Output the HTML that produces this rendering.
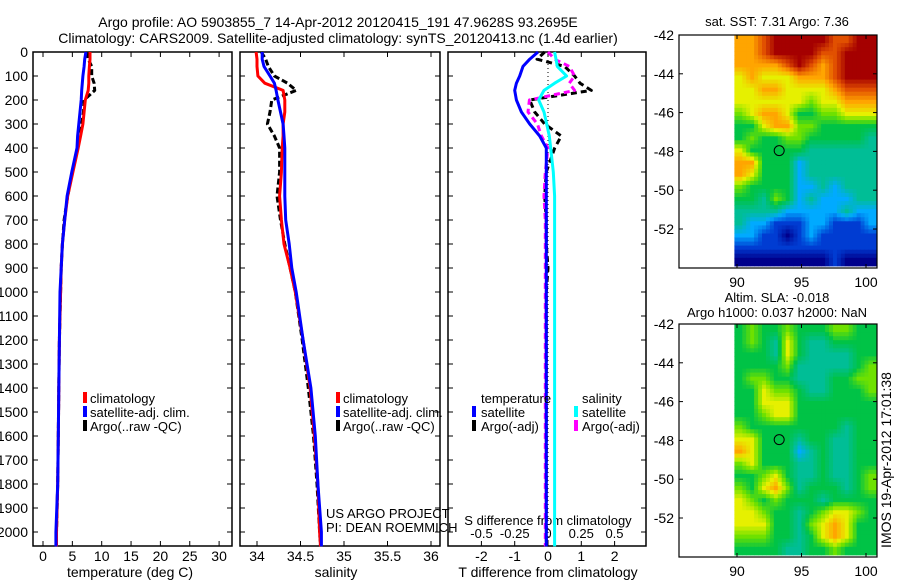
<!DOCTYPE html>
<html><head><meta charset="utf-8"><style>
body{margin:0;background:#fff}
svg{display:block;font-family:"Liberation Sans",sans-serif;font-size:13px}
.big{font-size:14px}
</style></head><body>
<svg id="c" width="900" height="580" viewBox="0 0 900 580">
<rect width="900" height="580" fill="#fff"/>
<text class="big" x="338" y="27" text-anchor="middle">Argo profile: AO 5903855_7 14-Apr-2012 20120415_191 47.9628S 93.2695E</text>
<text class="big" x="338" y="43" text-anchor="middle">Climatology: CARS2009. Satellite-adjusted climatology: synTS_20120413.nc (1.4d earlier)</text>
<g id="g"></g>
</svg>
<script>
// ---- data ----
const depthTicks=[0,100,200,300,400,500,600,700,800,900,1000,1100,1200,1300,1400,1500,1600,1700,1800,1900,2000];
const tempTicks=[0,5,10,15,20,25,30];
const salTicks=[34,34.5,35,35.5,36];
const tdTicks=[-2,-1,0,1,2];
const sdTicks=[-0.5,-0.25,0,0.25,0.5];
const sdTickLabels=["-0.5","-0.25","0","0.25","0.5"];
const depths=[0,30,60,100,130,160,200,250,300,350,400,500,600,700,800,900,1000,1200,1400,1600,1800,2000,2060];
const tempClim=[8.0,8.0,7.9,7.8,7.8,7.7,7.2,7.0,6.8,6.4,6.0,5.1,4.2,3.7,3.3,3.1,3.0,2.8,2.7,2.6,2.5,2.3,2.3];
const tempSat=[7.3,7.1,7.0,6.8,6.7,6.6,6.5,6.3,6.1,5.9,5.8,4.9,4.1,3.7,3.3,3.1,2.9,2.8,2.7,2.6,2.5,2.2,2.2];
const tempArgo=[7.6,7.7,8.3,8.3,8.7,8.8,7.0,6.9,6.6,6.3,5.9,5.0,4.2,3.6,3.3,3.1,3.0,2.8,2.7,2.6,2.5,2.3,2.3];
const salClim=[33.99,34.0,34.0,34.01,34.09,34.3,34.32,34.32,34.3,34.3,34.29,34.28,34.26,34.28,34.31,34.38,34.44,34.53,34.61,34.66,34.7,34.72,34.73];
const salSat=[34.06,34.06,34.08,34.15,34.2,34.22,34.24,34.27,34.3,34.31,34.32,34.32,34.32,34.33,34.37,34.4,34.45,34.53,34.62,34.67,34.7,34.74,34.74];
const salArgo=[34.05,34.1,34.13,34.2,34.35,34.45,34.17,34.15,34.12,34.2,34.26,34.26,34.23,34.27,34.32,34.38,34.44,34.52,34.59,34.65,34.69,34.72,34.73];
const tDiffSat=[-0.3,-0.55,-0.75,-0.85,-0.95,-1.0,-0.95,-0.8,-0.55,-0.25,-0.05,-0.05,-0.05,-0.05,-0.05,-0.05,-0.05,-0.05,-0.05,-0.05,-0.05,-0.05,-0.05];
const sDiffSat=[0.05,0.06,0.07,0.14,0.05,-0.03,-0.07,-0.03,-0.01,0.01,0.02,0.04,0.05,0.05,0.05,0.05,0.05,0.05,0.05,0.05,0.05,0.05,0.05];
const tDiffArgo=[-0.1,-0.33,0.5,0.8,0.96,1.3,-0.55,-0.4,-0.1,0.4,0.2,-0.05,-0.1,-0.05,-0.05,0.0,-0.05,-0.05,-0.05,-0.05,-0.05,-0.05,-0.05];
const sDiffArgo=[0.0,0.05,0.16,0.2,0.16,0.2,-0.14,-0.15,-0.08,-0.05,0.0,-0.02,-0.03,-0.02,-0.02,-0.02,-0.02,-0.02,-0.02,-0.02,-0.02,-0.02,-0.02];
const sstGrid=["778999998899","778999988999","777789878999","676667778999","667766667888","666666566777","567764455666","446775544444","454455444443","644444333333","774442333333","764442333333","544442232333","443542322233","333322222322","322111221112","221101211111","111111111111","000000001000"];
const slaGrid=["454454445544","454364334444","444364333344","444453333345","455443334455","446554334445","446664444444","445664444444","544444444344","664443443344","764442343344","564443343344","445643343345","546753444345","654544434444","665443456654","666443567644","555443467644","444433445444"];
const lonTicks=[90,95,100];
const latTicks=[-42,-44,-46,-48,-50,-52];
const argoLon=93.27, argoLat=-47.96;
const palette=[[0,0,140],[0,60,210],[0,170,255],[0,190,150],[0,195,70],[110,225,0],[230,240,0],[255,165,0],[225,80,0],[165,0,0]];

// ---- drawing ----
const NS="http://www.w3.org/2000/svg";
const G=document.getElementById('g');
function el(t,a,p){const e=document.createElementNS(NS,t);for(const k in a)e.setAttribute(k,a[k]);(p||G).appendChild(e);return e;}
const yD=d=>52+d*0.24;
const Y0=52,Y1=546;
function axesBox(x0,x1,name){
  const r=el('rect',{x:x0,y:Y0,width:x1-x0,height:Y1-Y0,fill:'none',stroke:'#000','stroke-width':1.5});
  
  
  depthTicks.forEach(d=>{el('line',{x1:x0,x2:x0+5,y1:yD(d),y2:yD(d),stroke:'#000'});el('line',{x1:x1-5,x2:x1,y1:yD(d),y2:yD(d),stroke:'#000'});});
}
function txt(x,y,s,name,anchor,cls){const t=el('text',{x:x,y:y,'text-anchor':anchor||'start'});t.textContent=s;
  if(cls)t.setAttribute('class',cls);
  
  return t;}
function xTicks(ticks,sx,labels,nameP,labelY){
  ticks.forEach((v,i)=>{const x=sx(v);
    el('line',{x1:x,x2:x,y1:Y0,y2:Y0+5,stroke:'#000'});el('line',{x1:x,x2:x,y1:Y1-5,y2:Y1,stroke:'#000'});
    txt(x,labelY,labels?labels[i]:String(v),nameP+'-tick-label','middle','big');
  });
}
function line(vals,sx,color,w,dash,name){
  const pts=vals.map((v,i)=>sx(v).toFixed(1)+','+yD(depths[i]).toFixed(1)).join(' ');
  const a={points:pts,fill:'none',stroke:color,'stroke-width':w,'stroke-linejoin':'round'};
  if(dash)a['stroke-dasharray']=dash;
  const p=el('polyline',a);
  
  
}
function legendSwatch(x,y,c){el('rect',{x:x,y:y-10,width:4,height:11,fill:c});}

depthTicks.forEach(d=>{txt(28,yD(d)+5,String(d),'depth-tick-label','end','big');});

// Panel 1 temperature
const sxT=v=>43+v*5.87;
axesBox(33,232,'temperature-axes');
xTicks(tempTicks,sxT,null,'temperature',561);
txt(130,577,'temperature (deg C)','temperature-x-axis-title','middle','big');
line(tempArgo,sxT,'#000',3,'6,3','temperature-argo-line');
line(tempClim,sxT,'#f00',3,null,'temperature-climatology-line');
line(tempSat,sxT,'#00f',3,null,'temperature-satellite-line');
legendSwatch(83,402,'#f00');txt(90,403,'climatology','legend-climatology');
legendSwatch(83,416,'#00f');txt(90,417,'satellite-adj. clim.','legend-satellite');
legendSwatch(83,430,'#000');txt(90,431,'Argo(..raw -QC)','legend-argo');

// Panel 2 salinity
const sxS=v=>257+(v-34)*87;
axesBox(240,440,'salinity-axes');
xTicks(salTicks,sxS,null,'salinity',561);
txt(336,577,'salinity','salinity-x-axis-title','middle','big');
line(salArgo,sxS,'#000',3,'6,3','salinity-argo-line');
line(salClim,sxS,'#f00',3,null,'salinity-climatology-line');
line(salSat,sxS,'#00f',3,null,'salinity-satellite-line');
legendSwatch(336,402,'#f00');txt(343,403,'climatology','legend-climatology-2');
legendSwatch(336,416,'#00f');txt(343,417,'satellite-adj. clim.','legend-satellite-2');
legendSwatch(336,430,'#000');txt(343,431,'Argo(..raw -QC)','legend-argo-2');
txt(326,518,'US ARGO PROJECT','project-label');
txt(326,532,'PI: DEAN ROEMMICH','pi-label');

// Panel 3 differences
const sxTD=v=>548+v*33.3;
const sxSD=v=>548+v*133;
axesBox(448,646,'difference-axes');
el('line',{x1:548,x2:548,y1:Y0,y2:Y1,stroke:'#000','stroke-dasharray':'1,3'});
xTicks(tdTicks,sxTD,null,'t-difference',561);
sdTicks.forEach((v,i)=>{txt(sxSD(v),538,sdTickLabels[i],'s-difference-tick-label','middle');});
txt(548,525,'S difference from climatology','s-difference-axis-title','middle');
txt(548,577,'T difference from climatology','t-difference-axis-title','middle','big');
line(tDiffArgo,sxTD,'#000',3,'6,4','t-diff-argo-line');
line(sDiffArgo,sxSD,'#f0f',3,'6,4','s-diff-argo-line');
line(sDiffSat,sxSD,'#0ff',3,null,'s-diff-satellite-line');
line(tDiffSat,sxTD,'#00f',3,null,'t-diff-satellite-line');
txt(481,403,'temperature','legend-temperature-heading');
txt(582,403,'salinity','legend-salinity-heading');
legendSwatch(472,416,'#00f');txt(481,417,'satellite','legend-t-satellite');
legendSwatch(472,430,'#000');txt(481,431,'Argo(-adj)','legend-t-argo');
legendSwatch(574,416,'#0ff');txt(582,417,'satellite','legend-s-satellite');
legendSwatch(574,430,'#f0f');txt(582,431,'Argo(-adj)','legend-s-argo');

// maps
function col(v){v=Math.max(0,Math.min(9,v));const i=Math.min(8,Math.floor(v)),f=v-i;const a=palette[i],b=palette[i+1];
  return `rgb(${Math.round(a[0]+(b[0]-a[0])*f)},${Math.round(a[1]+(b[1]-a[1])*f)},${Math.round(a[2]+(b[2]-a[2])*f)})`;}
function sample(grid,r,c){const nr=grid.length,nc=grid[0].length;
  r=Math.max(0,Math.min(nr-1,r));c=Math.max(0,Math.min(nc-1,c));
  const r0=Math.floor(r),c0=Math.floor(c),r1=Math.min(nr-1,r0+1),c1=Math.min(nc-1,c0+1),fr=r-r0,fc=c-c0;
  const g=(i,j)=>+grid[i][j];
  return g(r0,c0)*(1-fr)*(1-fc)+g(r0,c1)*(1-fr)*fc+g(r1,c0)*fr*(1-fc)+g(r1,c1)*fr*fc;}
function drawMap(top,grid,name){
  const bot=top+233;
  const sx=lon=>737+(lon-90)*12.9;
  const sy=lat=>top+(-42-lat)*19.4;
  const x0=sx(89.8),x1=sx(100.8),y0=sy(-42),y1=sy(-53.9);
  const nr=grid.length,nc=grid[0].length,S=3;
  const cw=(x1-x0)/(nc*S),ch=(y1-y0)/(nr*S);
  for(let i=0;i<nr*S;i++)for(let j=0;j<nc*S;j++){
    const v=sample(grid,(i+0.5)/S-0.5,(j+0.5)/S-0.5);
    const c=el('rect',{x:(x0+j*cw).toFixed(1),y:(y0+i*ch).toFixed(1),width:(cw+0.5).toFixed(1),height:(ch+0.5).toFixed(1),fill:col(v)});
    
    
  }
  const b=el('rect',{x:679,y:top,width:198,height:bot-top,fill:'none',stroke:'#000','stroke-width':1.2});
  
  
  lonTicks.forEach(v=>{const x=sx(v);el('line',{x1:x,x2:x,y1:bot-4,y2:bot,stroke:'#000'});el('line',{x1:x,x2:x,y1:top,y2:top+4,stroke:'#000'});txt(x,bot+19,String(v),name+'-lon-tick-label','middle','big');});
  latTicks.forEach(v=>{const y=sy(v);el('line',{x1:679,x2:683,y1:y,y2:y,stroke:'#000'});el('line',{x1:873,x2:877,y1:y,y2:y,stroke:'#000'});txt(674,y+5,String(v),name+'-lat-tick-label','end','big');});
  const c=el('circle',{cx:sx(argoLon),cy:sy(argoLat),r:5,fill:'none',stroke:'#000'});
  
  
}
drawMap(35,sstGrid,'sst-map');
txt(777,26,'sat. SST: 7.31  Argo: 7.36','sst-map-title','middle');
drawMap(324,slaGrid,'sla-map');
txt(777,302,'Altim. SLA: -0.018','sla-map-title','middle');
txt(777,317,'Argo h1000: 0.037 h2000: NaN','sla-map-subtitle','middle');
const r=txt(0,0,'IMOS 19-Apr-2012 17:01:38','timestamp-label','middle','big');
r.setAttribute('transform','translate(891,460) rotate(-90)');
</script>
</body></html>
